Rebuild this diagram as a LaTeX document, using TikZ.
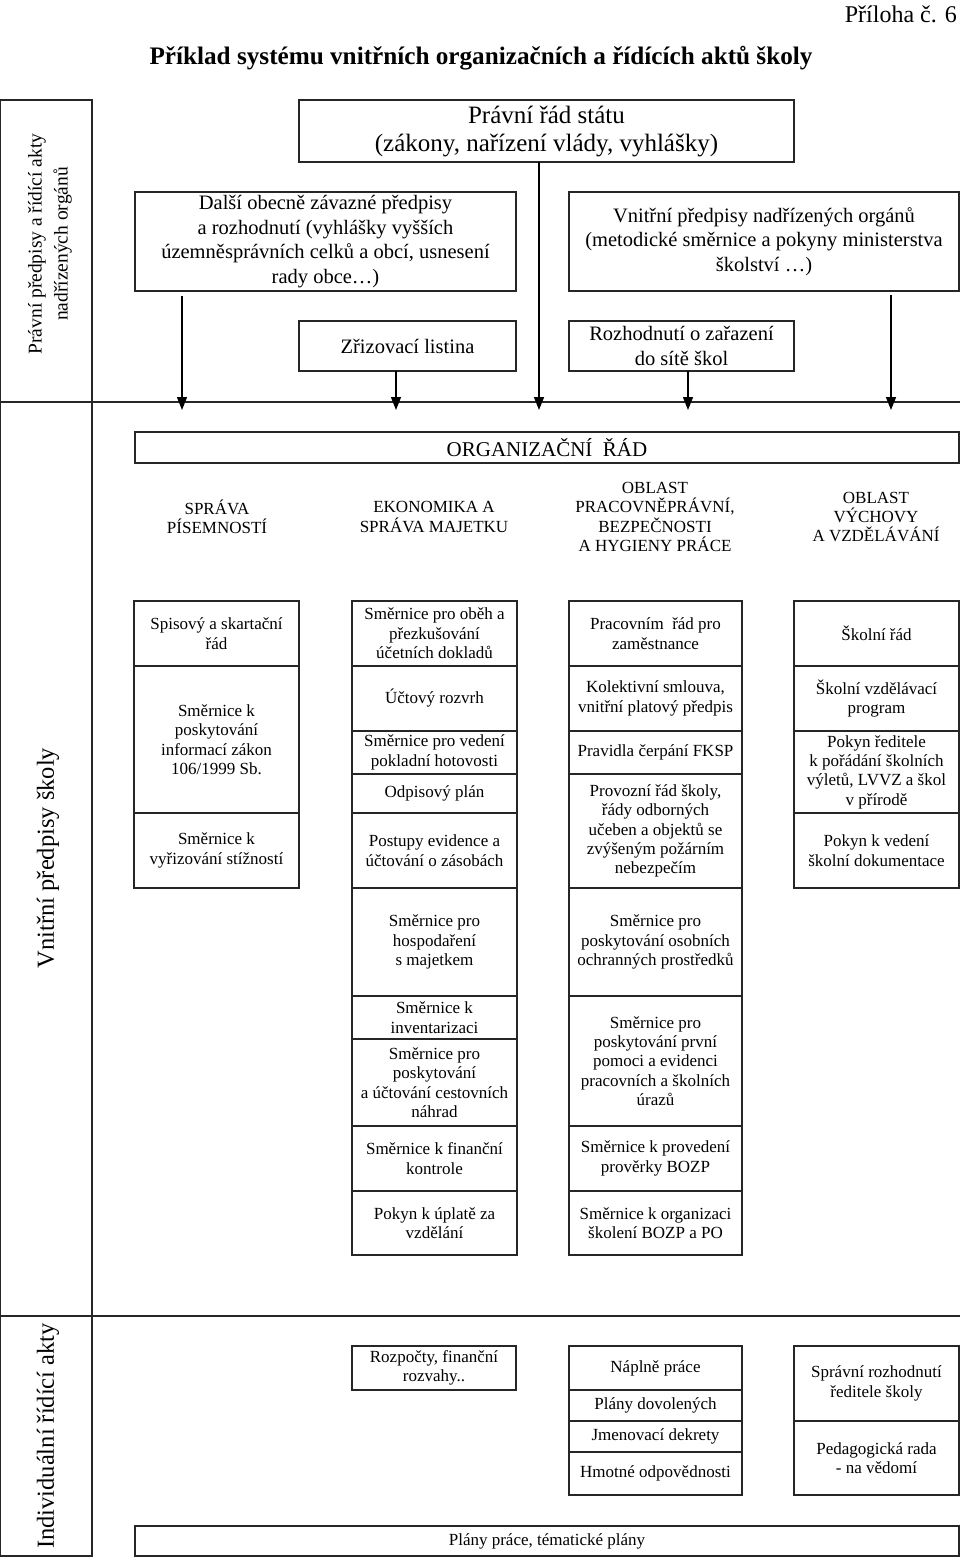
\documentclass[tikz,border=0pt]{standalone}
\usepackage{fontspec}
\setmainfont{Liberation Serif}
\usetikzlibrary{arrows.meta}
\tikzset{
  frame/.style={draw=black!85, line width=1.3pt},
  cellbox/.style={draw=black!85, line width=1.3pt, inner sep=0pt, outer sep=0pt, align=center, font=\fontsize{17}{19.4}\selectfont},
  headtxt/.style={inner sep=0pt, align=center, font=\fontsize{17}{19.4}\selectfont},
  midtxt/.style={font=\fontsize{20.5}{24.4}\selectfont},
  bigtxt/.style={font=\fontsize{25}{28}\selectfont},
  arr/.style={draw=black, line width=1.4pt, -{Triangle[width=10pt,length=13pt]}},
  sidelab/.style={rotate=90, inner sep=0pt, align=center},
}
\newcommand\mkcell[7][]{\node[cellbox,#1,minimum width={(#5-#3)*1pt},minimum height={(#6-#4)*1pt}] (#2) at ({(#3+#5)/2},{(#4+#6)/2}) {#7};}
\begin{document}
\begin{tikzpicture}[x=1pt,y=-1pt]
\useasboundingbox[fill=white] (0,0) rectangle (960,1561);

% titles
\node[anchor=east, inner sep=0pt, font=\fontsize{24}{28}\selectfont] (pril) at (957,14) {Příloha č. 6};
\node[inner sep=0pt, font=\bfseries\fontsize{25.2}{28}\selectfont] (title) at (481,58) {Příklad systému vnitřních organizačních a řídících aktů školy};

% left frame and separators
\draw[frame] (0.7,100) -- (92,100) -- (92,1556) -- (0.7,1556) -- cycle;
\draw[frame] (0,402) -- (960,402);
\draw[frame] (0,1316) -- (960,1316);

\node[sidelab, font=\fontsize{19.5}{26}\selectfont] (lab1) at (50,244) {Právní předpisy a řídící akty\\nadřízených orgánů};
\node[sidelab, font=\fontsize{24.5}{28}\selectfont] (lab2) at (48,858) {Vnitřní předpisy školy};
\node[sidelab, font=\fontsize{24.5}{28}\selectfont] (lab3) at (48,1436) {Individuální řídící akty};

% upper part
\mkcell[bigtxt]{stat}{299}{100}{794}{162}{Právní řád státu\\(zákony, nařízení vlády, vyhlášky)}
\mkcell[midtxt]{dalsi}{135}{192}{516}{291}{Další obecně závazné předpisy\\a rozhodnutí (vyhlášky vyšších\\územněsprávních celků a obcí, usnesení\\rady obce…)}
\mkcell[midtxt]{vnitr}{569}{192}{959}{291}{Vnitřní předpisy nadřízených orgánů\\(metodické směrnice a pokyny ministerstva\\školství …)}
\mkcell[midtxt]{zriz}{299}{321}{516}{371}{Zřizovací listina}
\mkcell[midtxt]{rozh}{569}{321}{794}{371}{Rozhodnutí o zařazení\\do sítě škol}

% arrows
\coordinate (a1s) at (182,296); \coordinate (a1e) at (182,410);
\coordinate (a2e) at (396,410);
\coordinate (a3e) at (539,410);
\coordinate (a4e) at (688,410);
\coordinate (a5s) at (891,295); \coordinate (a5e) at (891,410);
\draw[arr] (a1s) -- (a1e);
\draw[arr] (zriz.south -| a2e) -- (a2e);
\draw[arr] (stat.south -| a3e) -- (a3e);
\draw[arr] (rozh.south -| a4e) -- (a4e);
\draw[arr] (a5s) -- (a5e);

% organizacni rad
\mkcell[font=\fontsize{21}{24}\selectfont]{org}{135}{432}{959}{463}{ORGANIZAČNÍ\ \ ŘÁD}

\node[headtxt] (h1) at (217,517) {SPRÁVA\\PÍSEMNOSTÍ};
\node[headtxt] (h2) at (434,517) {EKONOMIKA A\\SPRÁVA MAJETKU};
\node[headtxt] (h3) at (655,517) {OBLAST\\PRACOVNĚPRÁVNÍ,\\BEZPEČNOSTI\\A HYGIENY PRÁCE};
\node[headtxt] (h4) at (876,517) {OBLAST\\VÝCHOVY\\A VZDĚLÁVÁNÍ};

% column 1
\mkcell{c1a}{134}{601}{299}{666}{Spisový a skartační\\řád}
\mkcell{c1b}{134}{666}{299}{813}{Směrnice k\\poskytování\\informací zákon\\106/1999 Sb.}
\mkcell{c1c}{134}{813}{299}{888}{Směrnice k\\vyřizování stížností}

% column 2
\mkcell{c2a}{352}{601}{517}{666}{Směrnice pro oběh a\\přezkušování\\účetních dokladů}
\mkcell{c2b}{352}{666}{517}{731}{Účtový rozvrh}
\mkcell{c2c}{352}{731}{517}{774}{Směrnice pro vedení\\pokladní hotovosti}
\mkcell{c2d}{352}{774}{517}{813}{Odpisový plán}
\mkcell{c2e}{352}{813}{517}{888}{Postupy evidence a\\účtování o zásobách}
\mkcell{c2f}{352}{888}{517}{996}{Směrnice pro\\hospodaření\\s majetkem}
\mkcell{c2g}{352}{996}{517}{1039}{Směrnice k\\inventarizaci}
\mkcell{c2h}{352}{1039}{517}{1126}{Směrnice pro\\poskytování\\a účtování cestovních\\náhrad}
\mkcell{c2i}{352}{1126}{517}{1191}{Směrnice k finanční\\kontrole}
\mkcell{c2j}{352}{1191}{517}{1255}{Pokyn k úplatě za\\vzdělání}

% column 3
\mkcell{c3a}{569}{601}{742}{666}{Pracovním\ \ řád pro\\zaměstnance}
\mkcell{c3b}{569}{666}{742}{731}{Kolektivní smlouva,\\vnitřní platový předpis}
\mkcell{c3c}{569}{731}{742}{774}{Pravidla čerpání FKSP}
\mkcell{c3d}{569}{774}{742}{888}{Provozní řád školy,\\řády odborných\\učeben a objektů se\\zvýšeným požárním\\nebezpečím}
\mkcell{c3e}{569}{888}{742}{996}{Směrnice pro\\poskytování osobních\\ochranných prostředků}
\mkcell{c3f}{569}{996}{742}{1126}{Směrnice pro\\poskytování první\\pomoci a evidenci\\pracovních a školních\\úrazů}
\mkcell{c3g}{569}{1126}{742}{1191}{Směrnice k provedení\\prověrky BOZP}
\mkcell{c3h}{569}{1191}{742}{1255}{Směrnice k organizaci\\školení BOZP a PO}

% column 4
\mkcell{c4a}{794}{601}{959}{666}{Školní řád}
\mkcell{c4b}{794}{666}{959}{731}{Školní vzdělávací\\program}
\mkcell{c4c}{794}{731}{959}{813}{Pokyn ředitele\\k pořádání školních\\výletů, LVVZ a škol\\v přírodě}
\mkcell{c4d}{794}{813}{959}{888}{Pokyn k vedení\\školní dokumentace}

% individual acts
\mkcell{d2a}{352}{1346}{516}{1390}{Rozpočty, finanční\\rozvahy..}
\mkcell{d3a}{569}{1346}{742}{1390}{Náplně práce}
\mkcell{d3b}{569}{1390}{742}{1421}{Plány dovolených}
\mkcell{d3c}{569}{1421}{742}{1452}{Jmenovací dekrety}
\mkcell{d3d}{569}{1452}{742}{1495}{Hmotné odpovědnosti}
\mkcell{d4a}{794}{1346}{959}{1421}{Správní rozhodnutí\\ředitele školy}
\mkcell{d4b}{794}{1421}{959}{1495}{Pedagogická rada\\- na vědomí}
\mkcell{plany}{135}{1526}{959}{1556}{Plány práce, tématické plány}
\end{tikzpicture}
\end{document}
